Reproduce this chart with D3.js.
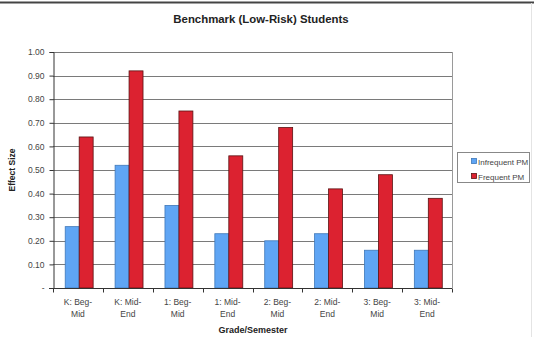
<!DOCTYPE html>
<html>
<head>
<meta charset="utf-8">
<script src="https://cdn.jsdelivr.net/npm/d3@7"></script>
<style>
  html, body { margin: 0; padding: 0; background: #fff; }
  svg { display: block; font-family: Arial, "Liberation Sans", sans-serif; }
</style>
</head>
<body>
<svg id="chart" width="534" height="337"></svg>
<script>
// Grade / semester groups, two lines per label
const categories = ["K: Beg-Mid", "K: Mid-End", "1: Beg-Mid", "1: Mid-End", "2: Beg-Mid", "2: Mid-End", "3: Beg-Mid", "3: Mid-End"];
const categoryLines = [["K: Beg-", "Mid"], ["K: Mid-", "End"], ["1: Beg-", "Mid"], ["1: Mid-", "End"], ["2: Beg-", "Mid"], ["2: Mid-", "End"], ["3: Beg-", "Mid"], ["3: Mid-", "End"]];
const seriesNames = ["Infrequent PM", "Frequent PM"];
const infrequentPM = [0.26, 0.52, 0.35, 0.23, 0.20, 0.23, 0.16, 0.16];
const frequentPM   = [0.64, 0.92, 0.75, 0.56, 0.68, 0.42, 0.48, 0.38];
const yTicks = [0, 0.1, 0.2, 0.3, 0.4, 0.5, 0.6, 0.7, 0.8, 0.9, 1.0];
const yTickLabels = ["-", "0.10", "0.20", "0.30", "0.40", "0.50", "0.60", "0.70", "0.80", "0.90", "1.00"];

const fills = ["#5fa5f4", "#dc2230"];
const strokes = ["#3f78b8", "#5a1212"];

const svg = d3.select("#chart");

// Outer frame
svg.append("line").attr("x1", 0).attr("x2", 534).attr("y1", 2.5).attr("y2", 2.5)
  .attr("stroke", "#444").attr("stroke-width", 2);
svg.append("line").attr("x1", 531.5).attr("x2", 531.5).attr("y1", 3).attr("y2", 337)
  .attr("stroke", "#e4e4e4").attr("stroke-width", 1);

const plot = { left: 53, right: 452, top: 52, bottom: 288 };

const x = d3.scaleBand().domain(categories).range([plot.left, plot.right]).paddingInner(0).paddingOuter(0);
const bw = x.bandwidth();
const x1 = d3.scaleBand().domain(seriesNames).range([bw * 0.245, bw * 0.805]).padding(0);
const y = d3.scaleLinear().domain([0, 1]).range([plot.bottom, plot.top]);

// Horizontal gridlines
svg.append("g").selectAll("line").data(yTicks.filter(t => t > 0)).join("line")
  .attr("x1", plot.left).attr("x2", plot.right)
  .attr("y1", d => Math.round(y(d)) + 0.5).attr("y2", d => Math.round(y(d)) + 0.5)
  .attr("stroke", "#7a7a7a").attr("stroke-width", 1.1);

// Right plot border
svg.append("line").attr("x1", plot.right + 0.5).attr("x2", plot.right + 0.5)
  .attr("y1", plot.top).attr("y2", plot.bottom)
  .attr("stroke", "#9a9a9a").attr("stroke-width", 1);

// Bars
const rows = categories.map((c, i) => ({ c, vals: [infrequentPM[i], frequentPM[i]] }));
const groups = svg.append("g").selectAll("g").data(rows).join("g")
  .attr("transform", d => `translate(${x(d.c)},0)`);
groups.selectAll("rect").data(d => d.vals.map((v, j) => ({ v, j }))).join("rect")
  .attr("x", d => x1(seriesNames[d.j]))
  .attr("width", x1.bandwidth())
  .attr("y", d => y(d.v))
  .attr("height", d => y(0) - y(d.v))
  .attr("fill", d => fills[d.j])
  .attr("stroke", d => strokes[d.j])
  .attr("stroke-width", 0.8);

// Y axis
const yAxis = d3.axisLeft(y).tickValues(yTicks).tickSize(4).tickPadding(5)
  .tickFormat((d, i) => yTickLabels[i]);
const gy = svg.append("g").attr("transform", `translate(${plot.left + 0.5},0)`).call(yAxis);
gy.select(".domain").attr("stroke", "#333");
gy.selectAll(".tick line").attr("stroke", "#333");
gy.selectAll(".tick text").attr("font-size", 8.5).attr("fill", "#444")
  .attr("font-family", "Arial, 'Liberation Sans', sans-serif");

// X axis line with boundary ticks
const gx = svg.append("g").attr("transform", `translate(0,${plot.bottom + 0.5})`);
gx.append("line").attr("x1", plot.left - 4).attr("x2", plot.right).attr("y1", 0).attr("y2", 0)
  .attr("stroke", "#333").attr("stroke-width", 1);
const bounds = categories.map(c => x(c)).concat([plot.right]);
gx.selectAll("line.tk").data(bounds).join("line").attr("class", "tk")
  .attr("x1", d => Math.round(d) + 0.5).attr("x2", d => Math.round(d) + 0.5)
  .attr("y1", 0).attr("y2", 4).attr("stroke", "#333");

// Category labels
const lab = svg.append("g").selectAll("text").data(categories).join("text")
  .attr("text-anchor", "middle")
  .attr("font-size", 8.5).attr("fill", "#444");
lab.each(function(c, i) {
  const t = d3.select(this);
  categoryLines[i].forEach((s, k) => {
    t.append("tspan").attr("x", x(c) + bw / 2).attr("y", 305 + k * 11.5).text(s);
  });
});

// Titles
svg.append("text").attr("x", 261).attr("y", 23).attr("text-anchor", "middle")
  .attr("font-size", 11.4).attr("font-weight", "bold").attr("fill", "#222")
  .text("Benchmark (Low-Risk) Students");
svg.append("text").attr("x", 253).attr("y", 333).attr("text-anchor", "middle")
  .attr("font-size", 9).attr("font-weight", "bold").attr("fill", "#222")
  .text("Grade/Semester");
svg.append("text").attr("transform", "translate(15,170) rotate(-90)").attr("text-anchor", "middle")
  .attr("font-size", 8.5).attr("font-weight", "bold").attr("fill", "#222")
  .text("Effect Size");

// Legend
const lg = svg.append("g");
lg.append("rect").attr("x", 457.5).attr("y", 152.5).attr("width", 72).attr("height", 30)
  .attr("fill", "#fff").attr("stroke", "#888").attr("stroke-width", 1);
seriesNames.forEach((s, i) => {
  lg.append("rect").attr("x", 471.5).attr("y", 158.5 + i * 15).attr("width", 5).attr("height", 5)
    .attr("fill", fills[i]).attr("stroke", strokes[i]).attr("stroke-width", 0.8);
  lg.append("text").attr("x", 478).attr("y", 164.5 + i * 15)
    .attr("font-size", 8).attr("fill", "#444")
    .text(s);
});
</script>
</body>
</html>
